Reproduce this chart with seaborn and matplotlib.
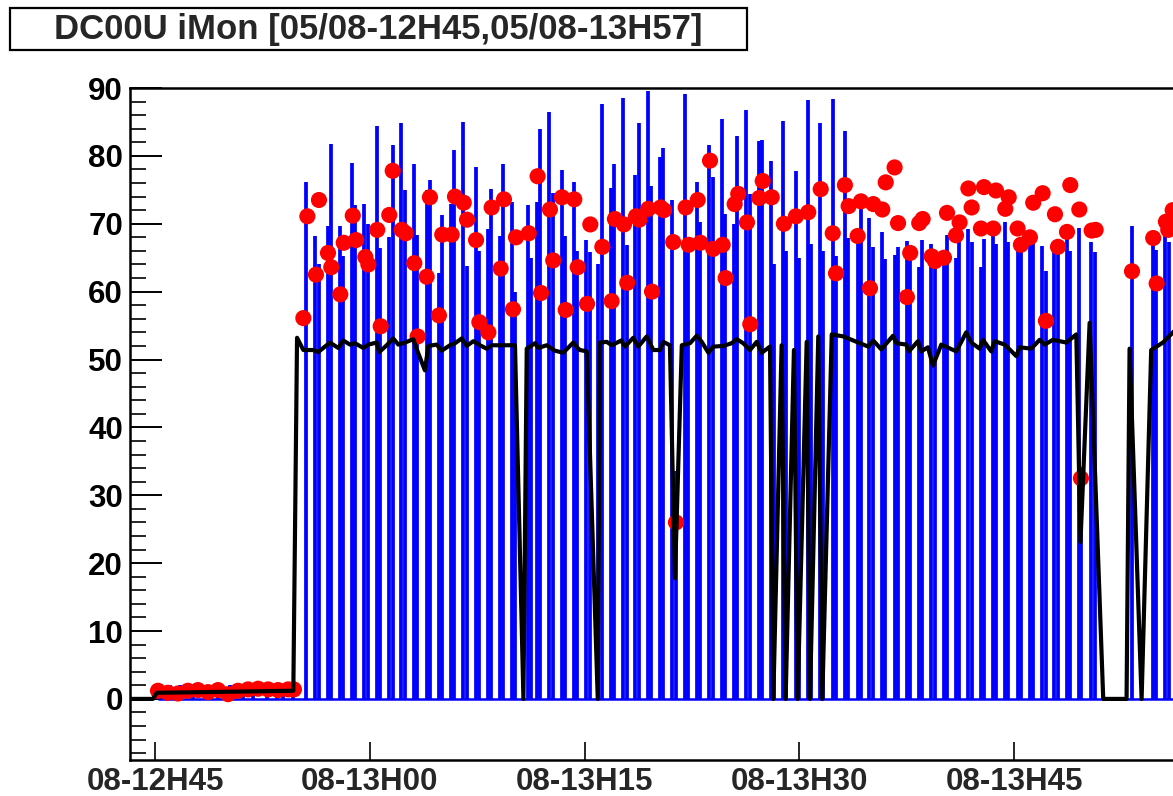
import numpy as np
import pandas as pd
import matplotlib
matplotlib.use("Agg")
import matplotlib.pyplot as plt
import seaborn as sns
from matplotlib.patches import Rectangle
from matplotlib.ticker import MultipleLocator

title = "DC00U iMon [05/08-12H45,05/08-13H57]"
tick_minutes = [0, 15, 30, 45, 60]
tick_labels = ["08-12H45", "08-13H00", "08-13H15", "08-13H30", "08-13H45"]

# time axis: minutes after 05/08 12:45
# blue bars: maximum of iMon in each interval (drawn from 0)
max_t = [0.21, 1.05, 1.75, 2.65, 3.70, 4.40, 5.24, 6.15, 6.84, 7.82, 8.52, 8.94, 9.64,
         10.52, 11.19, 11.43, 12.06, 12.27, 12.90, 13.15, 13.74, 13.99, 14.62, 14.87,
         15.48, 15.71, 16.36, 16.60, 17.20, 17.46, 18.07, 18.32, 18.97, 19.20, 19.83,
         20.02, 20.67, 20.86, 21.53, 21.77, 22.40, 22.60, 23.25, 23.44, 24.09, 24.30,
         24.95, 25.17, 26.03, 26.26, 26.68, 26.89, 27.54, 27.77, 28.40, 28.61, 29.24,
         29.47, 30.10, 30.36, 30.97, 31.19, 31.82, 32.03, 32.68, 32.94, 33.54, 33.78,
         34.41, 34.62, 35.24, 35.50, 36.10, 36.38, 36.99, 37.22, 37.83, 38.06, 38.69,
         38.95, 39.57, 39.80, 40.43, 40.64, 41.29, 41.53, 42.16, 42.39, 43.00, 43.23,
         43.88, 44.10, 44.74, 44.97, 45.58, 45.81, 46.44, 46.65, 47.33, 47.56, 48.18,
         48.41, 49.06, 49.28, 49.88, 50.16, 50.75, 51.00, 51.65, 51.89, 52.51, 52.74,
         53.35, 53.58, 54.19, 54.45, 55.08, 55.31, 55.94, 56.18, 56.77, 57.04, 57.65,
         57.88, 58.52, 58.73, 59.36, 59.59, 60.24, 60.45, 61.10, 61.31, 61.94, 62.20,
         62.80, 63.06, 63.67, 63.88, 64.53, 64.66, 65.38, 65.62, 68.23, 69.69, 69.92,
         70.55, 70.79]
max_v = [2.0, 2.0, 2.0, 2.0, 2.0, 2.0, 2.0, 2.0, 2.0, 2.0, 2.0, 2.0, 2.0,
         76.1, 68.2, 64.0, 69.6, 81.8, 69.6, 65.2, 78.9, 72.8, 72.9, 70.0,
         84.4, 66.5, 68.0, 81.6, 84.8, 75.0, 78.8, 68.4, 75.0, 76.4, 62.8,
         71.3, 72.9, 80.8, 85.0, 63.8, 78.3, 66.0, 69.2, 75.1, 68.2, 78.8,
         73.2, 60.0, 72.8, 65.0, 73.2, 84.0, 86.4, 74.5, 77.9, 68.2, 76.1,
         66.0, 67.6, 65.8, 64.0, 87.6, 75.2, 78.8, 88.6, 66.8, 77.2, 84.8,
         89.6, 75.6, 79.8, 81.1, 73.5, 33.6, 89.1, 68.1, 76.1, 70.3, 81.6,
         76.9, 85.4, 71.4, 70.0, 82.9, 86.8, 74.4, 82.2, 82.4, 79.2, 64.0,
         85.1, 66.0, 77.8, 65.0, 88.2, 67.0, 84.8, 66.0, 88.4, 65.2, 83.6,
         67.9, 69.0, 72.8, 70.8, 66.6, 68.8, 64.8, 65.4, 66.6, 67.4, 65.7,
         63.6, 67.6, 67.0, 64.7, 65.7, 68.4, 65.0, 69.0, 69.2, 67.3, 63.6,
         67.8, 68.5, 67.0, 70.2, 67.3, 66.7, 65.9, 67.1, 67.3, 66.7, 63.0,
         65.8, 65.5, 67.8, 66.0, 69.4, 34.2, 67.3, 65.8, 69.6, 67.3, 66.2,
         68.2, 67.3]

# red markers: mean iMon
mean_t = [0.21, 0.90, 1.60, 2.30, 3.00, 3.70, 4.40, 5.10, 5.80, 6.50, 7.20, 7.90, 8.60, 9.30, 9.70,
          10.36, 10.64, 11.24, 11.45, 12.08, 12.31, 12.94, 13.18, 13.81, 14.04, 14.69, 14.90,
          15.52, 15.76, 16.36, 16.60, 17.23, 17.51, 18.11, 18.34, 18.97, 19.20, 19.83, 20.06,
          20.72, 20.95, 21.56, 21.79, 22.42, 22.65, 23.28, 23.51, 24.14, 24.37, 25.00, 25.21,
          26.10, 26.72, 26.96, 27.58, 27.81, 28.42, 28.68, 29.28, 29.52, 30.17, 30.40, 31.24,
          31.89, 32.12, 32.75, 32.98, 33.59, 33.82, 34.45, 34.71, 35.31, 35.54, 36.19, 36.38,
          37.06, 37.27, 37.90, 38.09, 38.76, 38.99, 39.64, 39.85, 40.48, 40.73, 41.34, 41.57,
          42.20, 42.44, 43.07, 43.92, 44.76, 45.62, 46.49, 47.33, 47.56, 48.18, 48.44, 49.07,
          49.30, 49.93, 50.16, 50.79, 51.03, 51.65, 51.89, 52.51, 52.74, 53.37, 53.61, 54.24,
          54.47, 55.10, 55.31, 55.94, 56.19, 56.80, 57.03, 57.68, 57.89, 58.54, 58.73, 59.38,
          59.62, 60.24, 60.47, 61.10, 61.33, 61.99, 62.22, 62.85, 63.06, 63.69, 63.92, 64.55,
          64.66, 65.41, 65.69, 68.23, 69.71, 69.95, 70.60, 70.76, 71.07]
mean_v = [1.2, 0.9, 0.8, 1.2, 1.3, 1.0, 1.3, 0.7, 1.2, 1.4, 1.5, 1.4, 1.3, 1.4, 1.4,
          56.1, 71.1, 62.5, 73.5, 65.7, 63.6, 59.6, 67.2, 71.2, 67.6, 65.1, 64.0,
          69.1, 54.9, 71.3, 77.8, 69.1, 68.6, 64.2, 53.4, 62.2, 73.9, 56.5, 68.4,
          68.4, 74.0, 73.1, 70.6, 67.6, 55.5, 54.0, 72.4, 63.4, 73.6, 57.4, 68.0,
          68.6, 77.0, 59.8, 72.1, 64.6, 73.9, 57.3, 73.6, 63.6, 58.2, 69.9, 66.6,
          58.6, 70.7, 69.9, 61.3, 71.1, 70.6, 72.2, 60.0, 72.4, 72.0, 67.3, 26.0,
          72.4, 66.9, 73.5, 67.2, 79.3, 66.3, 66.9, 62.0, 72.9, 74.4, 70.2, 55.2,
          73.8, 76.3, 73.9, 70.0, 71.1, 71.7, 75.1, 68.6, 62.7, 75.7, 72.6, 68.2,
          73.3, 60.5, 72.9, 72.1, 76.1, 78.3, 70.1, 59.2, 65.7, 70.1, 70.7, 65.2,
          64.5, 65.0, 71.6, 68.3, 70.2, 75.2, 72.4, 69.3, 75.4, 69.3, 74.9, 72.2,
          73.9, 69.3, 66.9, 68.0, 73.1, 74.5, 55.7, 71.4, 66.6, 68.8, 75.7, 72.1,
          32.5, 69.0, 69.1, 63.0, 67.9, 61.2, 70.3, 69.1, 72.0]

# black line: instantaneous iMon
line_t = [-1.80, -0.14, 0.12, 9.66, 9.92, 10.36, 11.05, 11.40, 11.75, 12.22, 12.80, 13.15,
          13.62, 13.97, 14.55, 14.90, 15.48, 15.66, 16.18, 16.64, 16.99, 17.46, 18.04, 18.28,
          18.85, 19.09, 19.67, 20.02, 20.60, 20.95, 21.42, 21.77, 22.23, 22.70, 23.16, 23.51,
          25.02, 25.14, 25.73, 25.96, 26.54, 26.77, 27.35, 27.93, 28.51, 29.21, 29.56, 29.68,
          30.15, 30.92, 31.08, 31.55, 31.90, 32.56, 32.82, 33.40, 33.75, 34.34, 34.80, 35.27,
          35.50, 35.96, 36.31, 36.79, 37.36, 37.83, 38.18, 38.65, 38.99, 39.69, 40.27, 40.62,
          41.08, 41.55, 42.02, 42.37, 42.95, 43.18, 43.76, 44.04, 44.62, 44.88, 45.51, 45.74,
          46.32, 46.60, 47.26, 48.07, 49.00, 49.81, 50.16, 50.72, 51.54, 51.77, 52.47, 52.65,
          53.28, 53.51, 53.98, 54.33, 54.91, 55.96, 56.65, 57.00, 57.59, 57.82, 58.40, 58.64,
          59.34, 60.15, 60.38, 61.19, 61.78, 62.13, 62.71, 63.64, 64.34, 64.63, 65.27, 66.22,
          67.85, 68.06, 68.90, 69.57, 70.39, 71.09, 71.60]
line_v = [0.0, 0.0, 0.9, 1.2, 53.2, 51.4, 51.4, 51.1, 51.7, 52.5, 51.7, 52.8,
          52.2, 52.4, 51.7, 52.2, 52.5, 51.1, 52.1, 53.1, 52.2, 52.5, 53.0, 51.5,
          48.4, 52.0, 52.2, 51.3, 52.1, 52.4, 53.1, 52.0, 52.7, 52.1, 51.6, 52.1,
          52.1, 52.1, 0.0, 51.6, 52.4, 51.7, 52.1, 51.3, 51.0, 52.5, 51.6, 51.4,
          51.2, 0.0, 52.5, 52.6, 52.1, 52.8, 51.9, 53.2, 51.9, 53.4, 51.4, 51.4,
          52.6, 52.1, 17.8, 52.1, 52.4, 53.5, 52.6, 51.0, 51.9, 52.0, 52.4, 53.0,
          52.4, 51.4, 52.6, 51.0, 51.9, 0.0, 52.1, 0.0, 51.4, 0.0, 52.6, 0.0,
          53.4, 0.0, 53.7, 53.4, 52.6, 51.9, 52.8, 51.5, 53.5, 52.4, 52.2, 51.2,
          52.7, 51.2, 51.8, 49.1, 52.2, 51.2, 54.0, 52.5, 51.6, 52.9, 51.2, 52.7,
          52.2, 50.5, 51.8, 51.6, 52.9, 52.2, 52.9, 52.5, 53.7, 23.1, 55.4, 0.0,
          0.0, 51.6, 0.0, 51.4, 52.5, 54.0, 55.0]

sns.set_style("ticks")
plt.rcParams['font.family'] = ['Liberation Sans', 'DejaVu Sans']
plt.rcParams['font.weight'] = 'bold'

W, H = 1173, 796
fig = plt.figure(figsize=(W / 100, H / 100), dpi=100)
ax = fig.add_axes([130 / W, 36 / H, 1060 / W, 672 / H])

ax.vlines(max_t, 0, max_v, color='#0000ff', lw=2.7, zorder=2)
ax.hlines(0, min(max_t), 75, color='#0000ff', lw=1.8, zorder=2)

sns.scatterplot(x=mean_t, y=mean_v, color='#ff0000', s=135, edgecolor='none',
                linewidth=0, zorder=3, ax=ax, legend=False)
sns.lineplot(x=line_t, y=line_v, sort=False, estimator=None, color='black',
             lw=3.0, zorder=4, ax=ax, legend=False)

ax.set_xlim(-1.746, 72.28)
ax.set_ylim(-9, 90)
ax.set_xticks(tick_minutes)
ax.set_xticklabels(tick_labels)
ax.yaxis.set_major_locator(MultipleLocator(10))
ax.yaxis.set_minor_locator(MultipleLocator(2))
ax.tick_params(axis='y', which='major', direction='in', length=23, width=1.4,
               labelsize=22.5, pad=5, colors='black')
ax.tick_params(axis='y', which='minor', direction='in', length=11.5, width=1.4)
ax.tick_params(axis='x', which='major', direction='in', length=13, width=1.4,
               labelsize=22.5, pad=5)
for lab in ax.get_xticklabels() + ax.get_yticklabels():
    lab.set_fontweight('bold')
for s in ax.spines.values():
    s.set_linewidth(1.8)
    s.set_color('black')
ax.set_xlabel('')
ax.set_ylabel('')

# title box
fig.patches.append(Rectangle((10 / W, 1 - 50 / H), 737 / W, 42 / H,
                             transform=fig.transFigure, facecolor='white',
                             edgecolor='black', lw=1.6))
fig.text(378.5 / W, 1 - 29 / H, title, ha='center', va='center',
         fontsize=25, fontweight='bold')

fig.savefig("out.png", dpi=100)
